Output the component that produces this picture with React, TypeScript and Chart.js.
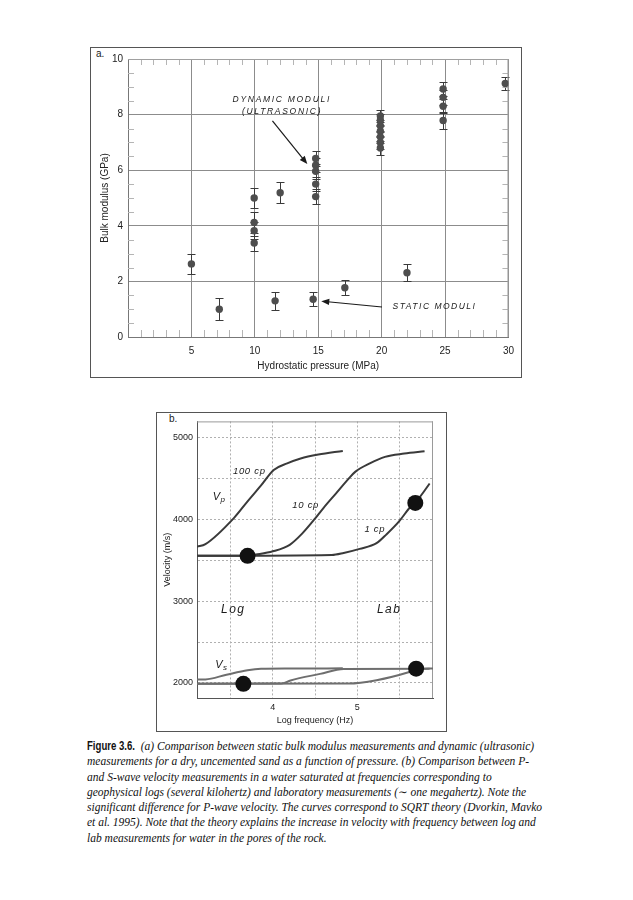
import React, { useEffect, useRef } from "react";
import { Chart, registerables } from "chart.js";
Chart.register(...registerables);

const NARROW = '"Liberation Sans Narrow", "Liberation Sans", Arial, sans-serif';
const SANS = '"Liberation Sans", Arial, Helvetica, sans-serif';
const SERIF = '"Liberation Serif", "Times New Roman", "DejaVu Serif", serif';

// ---------- Figure (a): bulk modulus vs hydrostatic pressure ----------
const pressureTicks = [0, 5, 10, 15, 20, 25, 30];
const modulusTicks = [0, 2, 4, 6, 8, 10];

const staticPressure = [5.0, 7.2, 11.6, 14.6, 17.1, 22.0];
const staticModulus = [2.63, 1.0, 1.3, 1.36, 1.77, 2.31];
const staticError = [0.37, 0.39, 0.33, 0.26, 0.27, 0.31];

const dynamicPressure = [
  9.95, 9.95, 9.95, 9.95,
  12.0,
  14.8, 14.8, 14.8, 14.8, 14.8,
  19.9, 19.9, 19.9, 19.9, 19.9, 19.9, 19.9,
  24.85, 24.85, 24.85, 24.85,
  29.75,
];
const dynamicModulus = [
  5.0, 4.12, 3.82, 3.38,
  5.19,
  6.42, 6.18, 5.96, 5.5, 5.05,
  7.95, 7.8, 7.6, 7.4, 7.2, 7.0, 6.8,
  8.92, 8.62, 8.3, 7.79,
  9.12,
];
const dynamicError = [
  0.37, 0.38, 0.3, 0.27,
  0.37,
  0.26, 0.26, 0.26, 0.26, 0.28,
  0.2, 0.22, 0.22, 0.22, 0.22, 0.24, 0.26,
  0.24, 0.26, 0.26, 0.3,
  0.25,
];

// ---------- Figure (b): velocity vs log frequency ----------
const freqTicks = [3.5, 4, 4.5, 5, 5.5];
const velocityTicks = [2000, 2500, 3000, 3500, 4000, 4500, 5000];

const vp100Freq = [3.1, 3.2, 3.54, 3.7, 3.86, 4.01, 4.17, 4.33, 4.54, 4.83];
const vp100Vel = [3666, 3698, 4020, 4222, 4416, 4605, 4686, 4746, 4794, 4839];
const vp10Freq = [3.1, 3.7, 3.8, 4.0, 4.2, 4.35, 4.5, 4.6, 4.75, 4.9, 4.98, 5.15, 5.33, 5.56, 5.8];
const vp10Vel = [3555, 3555, 3570, 3610, 3690, 3830, 4010, 4140, 4320, 4500, 4585, 4686, 4766, 4806, 4834];
const vp1Freq = [3.1, 4.7, 4.84, 5.03, 5.23, 5.35, 5.5, 5.62, 5.74, 5.86];
const vp1Vel = [3555, 3565, 3590, 3640, 3710, 3820, 3980, 4140, 4270, 4440];

const vs100Freq = [3.1, 3.2, 3.45, 3.7, 3.86, 4.2, 4.83];
const vs100Vel = [2040, 2042, 2100, 2154, 2172, 2176, 2178];
const vs10Freq = [3.1, 4.1, 4.21, 4.56, 4.84, 5.86];
const vs10Vel = [1990, 1992, 2030, 2110, 2170, 2174];
const vs1Freq = [3.1, 4.9, 5.23, 5.62, 5.72, 5.9];
const vs1Vel = [1990, 1992, 2033, 2133, 2170, 2176];

const measFreq = [3.7, 5.69, 3.65, 5.7];
const measVel = [3555, 4202, 1988, 2174];

// ---------- helpers ----------
function pts(xs: number[], ys: number[]) {
  return xs.map((x, i) => ({ x, y: ys[i] }));
}

function arrow(ctx: CanvasRenderingContext2D, x1: number, y1: number, x2: number, y2: number) {
  const ang = Math.atan2(y2 - y1, x2 - x1);
  const hl = 8, hw = 3.2;
  ctx.beginPath();
  ctx.moveTo(x1, y1);
  ctx.lineTo(x2 - Math.cos(ang) * hl * 0.8, y2 - Math.sin(ang) * hl * 0.8);
  ctx.stroke();
  ctx.beginPath();
  ctx.moveTo(x2, y2);
  ctx.lineTo(x2 - Math.cos(ang) * hl - Math.sin(ang) * hw, y2 - Math.sin(ang) * hl + Math.cos(ang) * hw);
  ctx.lineTo(x2 - Math.cos(ang) * hl + Math.sin(ang) * hw, y2 - Math.sin(ang) * hl - Math.cos(ang) * hw);
  ctx.closePath();
  ctx.fill();
}

function text(ctx: any, s: string, x: number, y: number, font: string, spacing = 0, align: CanvasTextAlign = "center") {
  ctx.font = font;
  ctx.letterSpacing = spacing + "px";
  ctx.textAlign = align;
  ctx.textBaseline = "middle";
  ctx.fillText(s, x, y);
  ctx.letterSpacing = "0px";
}

const errorBars = {
  id: "errorBars",
  beforeDatasetsDraw(chart: any) {
    const { ctx, scales } = chart;
    const x = scales.x, y = scales.y;
    ctx.save();
    ctx.strokeStyle = "#3a3a3a";
    ctx.lineWidth = 1;
    chart.data.datasets.forEach((ds: any) => {
      if (!ds.errors) return;
      ds.data.forEach((p: any, i: number) => {
        const e = ds.errors[i];
        const px = Math.round(x.getPixelForValue(p.x)) + 0.5;
        const y1 = Math.round(y.getPixelForValue(p.y + e)) + 0.5;
        const y2 = Math.round(y.getPixelForValue(p.y - e)) + 0.5;
        ctx.beginPath();
        ctx.moveTo(px, y1); ctx.lineTo(px, y2);
        ctx.moveTo(px - 4, y1); ctx.lineTo(px + 4, y1);
        ctx.moveTo(px - 4, y2); ctx.lineTo(px + 4, y2);
        ctx.stroke();
      });
    });
    ctx.restore();
  },
};

// annotation anchors in data coordinates
const topNotes = {
  dynamic1: { x: 12.13, y: 8.53 },
  dynamic2: { x: 12.15, y: 8.11 },
  dynArrowFrom: { x: 11.39, y: 7.77 },
  dynArrowTo: { x: 14.14, y: 6.22 },
  staticText: { x: 24.17, y: 1.09 },
  statArrowFrom: { x: 20.03, y: 1.08 },
  statArrowTo: { x: 15.24, y: 1.29 },
};

const topDecor = {
  id: "topDecor",
  beforeDatasetsDraw(chart: any) {
    const { ctx, chartArea: a, scales } = chart;
    const x = scales.x, y = scales.y;
    ctx.save();
    ctx.strokeStyle = "#b5b5b5";
    ctx.lineWidth = 1;
    ctx.beginPath();
    for (let v = 1; v < 30; v++) {
      if (v % 5 === 0) continue;
      const px = Math.round(x.getPixelForValue(v)) + 0.5;
      ctx.moveTo(px, a.top); ctx.lineTo(px, a.top + 6);
      ctx.moveTo(px, a.bottom); ctx.lineTo(px, a.bottom - 7);
    }
    for (let v = 0.5; v < 10; v += 0.5) {
      if (v % 2 === 0) continue;
      const py = Math.round(y.getPixelForValue(v)) + 0.5;
      ctx.moveTo(a.left, py); ctx.lineTo(a.left + 6, py);
      ctx.moveTo(a.right, py); ctx.lineTo(a.right - 6, py);
    }
    ctx.stroke();
    ctx.strokeStyle = "#a0a0a0";
    ctx.beginPath();
    ctx.moveTo(a.left, a.top + 0.5); ctx.lineTo(a.right, a.top + 0.5);
    ctx.moveTo(a.right - 0.5, a.top); ctx.lineTo(a.right - 0.5, a.bottom);
    ctx.stroke();
    ctx.restore();
  },
  afterDraw(chart: any) {
    const { ctx, chartArea: a, scales } = chart;
    const x = scales.x, y = scales.y;
    const P = (p: any) => [x.getPixelForValue(p.x), y.getPixelForValue(p.y)];
    ctx.save();
    ctx.fillStyle = "#1a1a1a";
    ctx.strokeStyle = "#1a1a1a";
    ctx.lineWidth = 1.2;
    const f = 'italic 8.5px ' + SANS;
    let [tx, ty] = P(topNotes.dynamic1);
    text(ctx, "DYNAMIC MODULI", tx, ty, f, 1.7);
    [tx, ty] = P(topNotes.dynamic2);
    text(ctx, "(ULTRASONIC)", tx, ty, f, 1.7);
    [tx, ty] = P(topNotes.staticText);
    text(ctx, "STATIC MODULI", tx, ty, f, 1.5);
    const [a1, b1] = P(topNotes.dynArrowFrom), [a2, b2] = P(topNotes.dynArrowTo);
    arrow(ctx, a1, b1, a2, b2);
    const [c1, d1] = P(topNotes.statArrowFrom), [c2, d2] = P(topNotes.statArrowTo);
    arrow(ctx, c1, d1, c2, d2);
    // axis titles
    ctx.fillStyle = "#222";
    text(ctx, "Hydrostatic pressure (MPa)", (a.left + a.right) / 2, a.bottom + 29, "10px " + NARROW);
    ctx.save();
    ctx.translate(15, (a.top + a.bottom) / 2);
    ctx.rotate(-Math.PI / 2);
    text(ctx, "Bulk modulus (GPa)", 0, 0, "10px " + NARROW);
    ctx.restore();
    ctx.restore();
  },
};

const botNotes = {
  c100: { x: 3.72, y: 4589 },
  vp: { x: 3.33, y: 4275 },
  c10: { x: 4.39, y: 4174 },
  c1: { x: 5.21, y: 3884 },
  log: { x: 3.53, y: 2898 },
  lab: { x: 5.38, y: 2902 },
  vs: { x: 3.36, y: 2222 },
};

const botDecor = {
  id: "botDecor",
  beforeDatasetsDraw(chart: any) {
    const { ctx, chartArea: a } = chart;
    ctx.save();
    ctx.strokeStyle = "#9a9a9a";
    ctx.lineWidth = 1;
    ctx.beginPath();
    ctx.moveTo(a.left, a.top + 0.5); ctx.lineTo(a.right, a.top + 0.5);
    ctx.moveTo(a.right - 0.5, a.top); ctx.lineTo(a.right - 0.5, a.bottom);
    ctx.stroke();
    ctx.restore();
  },
  afterDraw(chart: any) {
    const { ctx, chartArea: a, scales } = chart;
    const x = scales.x, y = scales.y;
    const P = (p: any) => [x.getPixelForValue(p.x), y.getPixelForValue(p.y)];
    ctx.save();
    ctx.fillStyle = "#1a1a1a";
    const f = "italic 9.5px " + SANS;
    let [tx, ty] = P(botNotes.c100);
    text(ctx, "100 cp", tx, ty, f, 0.7);
    [tx, ty] = P(botNotes.c10);
    text(ctx, "10 cp", tx, ty, f, 0.7);
    [tx, ty] = P(botNotes.c1);
    text(ctx, "1 cp", tx, ty, f, 0.7);
    [tx, ty] = P(botNotes.log);
    text(ctx, "Log", tx, ty, "italic 12px " + SANS, 1.5);
    [tx, ty] = P(botNotes.lab);
    text(ctx, "Lab", tx, ty, "italic 12px " + SANS, 1.5);
    [tx, ty] = P(botNotes.vp);
    text(ctx, "V", tx, ty, "italic 11px " + SANS, 0);
    text(ctx, "p", tx + 4, ty + 3, "italic 8px " + SANS, 0, "left");
    [tx, ty] = P(botNotes.vs);
    text(ctx, "V", tx, ty, "italic 11px " + SANS, 0);
    text(ctx, "s", tx + 4, ty + 3, "italic 8px " + SANS, 0, "left");
    ctx.fillStyle = "#222";
    text(ctx, "Log frequency (Hz)", (a.left + a.right) / 2, a.bottom + 23, "9px " + NARROW);
    ctx.save();
    ctx.translate(12, (a.top + a.bottom) / 2);
    ctx.rotate(-Math.PI / 2);
    text(ctx, "Velocity (m/s)", 0, 0, "9px " + NARROW);
    ctx.restore();
    ctx.restore();
  },
};

function TopChart() {
  const ref = useRef<HTMLCanvasElement>(null);
  useEffect(() => {
    const chart = new Chart(ref.current as HTMLCanvasElement, {
      type: "scatter",
      data: {
        datasets: [
          {
            label: "Static moduli",
            data: pts(staticPressure, staticModulus),
            errors: staticError,
            pointRadius: 3.7,
            pointBackgroundColor: "#4e4e4e",
            pointBorderColor: "#4e4e4e",
            pointBorderWidth: 0,
          } as any,
          {
            label: "Dynamic moduli",
            data: pts(dynamicPressure, dynamicModulus),
            errors: dynamicError,
            pointRadius: 3.7,
            pointBackgroundColor: "#4e4e4e",
            pointBorderColor: "#4e4e4e",
            pointBorderWidth: 0,
          } as any,
        ],
      },
      options: {
        animation: false,
        responsive: false,
        events: [],
        layout: { padding: { left: 0, right: 12, top: 12, bottom: 0 } },
        plugins: { legend: { display: false }, tooltip: { enabled: false } },
        scales: {
          x: {
            type: "linear",
            min: 0,
            max: 30,
            afterFit: (s: any) => { s.height = 41; },
            afterBuildTicks: (s: any) => { s.ticks = pressureTicks.map((v) => ({ value: v })); },
            ticks: {
              callback: (v: any) => (v === 0 ? "" : String(v)),
              font: { family: NARROW, size: 10 },
              color: "#222",
              padding: 8,
              maxRotation: 0,
              autoSkip: false,
            },
            grid: { color: "#8c8c8c", lineWidth: 1, drawTicks: false },
            border: { display: true, color: "#777" },
          },
          y: {
            type: "linear",
            min: 0,
            max: 10,
            afterFit: (s: any) => { s.width = 38; },
            afterBuildTicks: (s: any) => { s.ticks = modulusTicks.map((v) => ({ value: v })); },
            ticks: {
              font: { family: NARROW, size: 10 },
              color: "#222",
              padding: 5,
              autoSkip: false,
            },
            grid: { color: "#8c8c8c", lineWidth: 1, drawTicks: false },
            border: { display: true, color: "#777" },
          },
        },
      },
      plugins: [errorBars, topDecor],
    } as any);
    return () => chart.destroy();
  }, []);
  return (
    <canvas
      ref={ref}
      width={432}
      height={331}
      style={{ position: "absolute", left: 90, top: 47, width: 432, height: 331 }}
    />
  );
}

function BottomChart() {
  const ref = useRef<HTMLCanvasElement>(null);
  useEffect(() => {
    const vpColor = "#3a3a3a";
    const vsColor = "#6e6e6e";
    const line = (label: string, xs: number[], ys: number[], color: string) => ({
      label,
      data: pts(xs, ys),
      showLine: true,
      borderColor: color,
      borderWidth: 2,
      pointRadius: 0,
      cubicInterpolationMode: "monotone",
      fill: false,
    });
    const chart = new Chart(ref.current as HTMLCanvasElement, {
      type: "scatter",
      data: {
        datasets: [
          {
            label: "Measurements",
            data: pts(measFreq, measVel),
            pointRadius: 8,
            pointBackgroundColor: "#111",
            pointBorderColor: "#111",
            pointBorderWidth: 0,
            showLine: false,
          },
          line("Vp 100 cp", vp100Freq, vp100Vel, vpColor),
          line("Vp 10 cp", vp10Freq, vp10Vel, vpColor),
          line("Vp 1 cp", vp1Freq, vp1Vel, vpColor),
          line("Vs 100 cp", vs100Freq, vs100Vel, vsColor),
          line("Vs 10 cp", vs10Freq, vs10Vel, vsColor),
          line("Vs 1 cp", vs1Freq, vs1Vel, vsColor),
        ],
      },
      options: {
        animation: false,
        responsive: false,
        events: [],
        layout: { padding: { left: 0, right: 14, top: 6, bottom: 0 } },
        plugins: { legend: { display: false }, tooltip: { enabled: false } },
        scales: {
          x: {
            type: "linear",
            min: 3.1,
            max: 5.9,
            afterFit: (s: any) => { s.height = 34; },
            afterBuildTicks: (s: any) => { s.ticks = freqTicks.map((v) => ({ value: v })); },
            ticks: {
              callback: (v: any) => (Number.isInteger(v) ? String(v) : ""),
              font: { family: NARROW, size: 9 },
              color: "#222",
              padding: 4,
              maxRotation: 0,
              autoSkip: false,
            },
            grid: { color: "#b0b0b0", lineWidth: 1, drawTicks: false },
            border: { display: true, color: "#555", dash: [2, 2] },
          },
          y: {
            type: "linear",
            min: 1815,
            max: 5200,
            afterFit: (s: any) => { s.width = 41; },
            afterBuildTicks: (s: any) => { s.ticks = velocityTicks.map((v) => ({ value: v })); },
            ticks: {
              callback: (v: any) => (v % 1000 === 0 ? String(v) : ""),
              font: { family: NARROW, size: 9 },
              color: "#222",
              padding: 4,
              autoSkip: false,
            },
            grid: { color: "#b0b0b0", lineWidth: 1, drawTicks: false },
            border: { display: true, color: "#555", dash: [2, 2] },
          },
        },
      },
      plugins: [botDecor],
    } as any);
    return () => chart.destroy();
  }, []);
  return (
    <canvas
      ref={ref}
      width={291}
      height={320}
      style={{ position: "absolute", left: 156, top: 412, width: 291, height: 320 }}
    />
  );
}

const captionLines = [
  "measurements for a dry, uncemented sand as a function of pressure. (b) Comparison between P-",
  "and S-wave velocity measurements in a water saturated at frequencies corresponding to",
  "geophysical logs (several kilohertz) and laboratory measurements (\u223C one megahertz). Note the",
  "significant difference for P-wave velocity. The curves correspond to SQRT theory (Dvorkin, Mavko",
  "et al. 1995). Note that the theory explains the increase in velocity with frequency between log and",
  "lab measurements for water in the pores of the rock.",
];

export default function App() {
  return (
    <div style={{ position: "absolute", left: 0, top: 0, width: 633, height: 900, background: "#fff" }}>
      <div style={{ position: "absolute", left: 90, top: 47, width: 432, height: 331, border: "1px solid #555", boxSizing: "border-box" }} />
      <div style={{ position: "absolute", left: 96, top: 48, fontFamily: SANS, fontSize: 10, color: "#222" }}>a.</div>
      <TopChart />
      <div style={{ position: "absolute", left: 156, top: 412, width: 291, height: 320, border: "1px solid #555", boxSizing: "border-box" }} />
      <div style={{ position: "absolute", left: 169, top: 413, fontFamily: SANS, fontSize: 10, color: "#222" }}>b.</div>
      <BottomChart />
      <div
        style={{
          position: "absolute",
          left: 87,
          top: 739,
          fontFamily: SERIF,
          fontStyle: "italic",
          fontSize: 11.5,
          lineHeight: "15.3px",
          whiteSpace: "pre",
          color: "#111",
        }}
      >
        <div>
          <span
            style={{
              display: "inline-block",
              width: 48,
              fontFamily: SANS,
              fontStyle: "normal",
              fontWeight: "bold",
              fontSize: 12,
              transform: "scaleX(0.8)",
              transformOrigin: "0 50%",
            }}
          >
            Figure 3.6.
          </span>
          {"  (a) Comparison between static bulk modulus measurements and dynamic (ultrasonic)"}
        </div>
        {captionLines.map((l, i) => (
          <div key={i}>{l}</div>
        ))}
      </div>
    </div>
  );
}
